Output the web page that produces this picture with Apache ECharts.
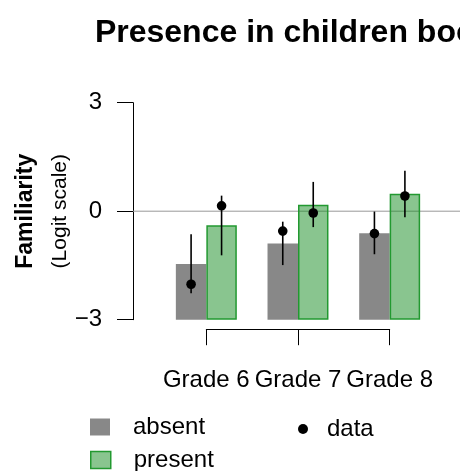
<!DOCTYPE html>
<html>
<head>
<meta charset="utf-8">
<script src="https://cdn.jsdelivr.net/npm/echarts@6/dist/echarts.min.js"></script>
<style>
html,body{margin:0;padding:0;background:#fff;}
#chart{width:460px;height:471px;}
</style>
</head>
<body>
<div id="chart"></div>
<script>
// ---- data ----
const categories = ['Grade 6', 'Grade 7', 'Grade 8'];
const absentBar = [-1.46, -0.89, -0.61];
const presentBar = [-0.39, 0.18, 0.48];
const absentMean = [-2.02, -0.55, -0.62];
const absentLow = [-2.27, -1.49, -1.19];
const absentHigh = [-0.64, -0.29, -0.01];
const presentMean = [0.15, -0.05, 0.42];
const presentLow = [-1.22, -0.44, -0.17];
const presentHigh = [0.43, 0.81, 1.12];
const yTicks = [-3, 0, 3];
const barBase = -3;
const refLine = 0;

const FONT = '"Liberation Sans", Arial, Helvetica, sans-serif';
const GAP = 0.335;
const TOP = 102.7, BOTTOM = 151.3;
const GRAY = '#888888';
const GREEN_FILL = 'rgba(19,139,31,0.5)';
const GREEN_LINE = '#229930';

const pointData = [];
categories.forEach((c, i) => {
  pointData.push([i, 0, absentMean[i], absentLow[i], absentHigh[i]]);
  pointData.push([i, 1, presentMean[i], presentLow[i], presentHigh[i]]);
});

const legendText = {fontSize: 24, color: '#000', fontFamily: FONT, padding: [0, 0, 0, 18]};

const chart = echarts.init(document.getElementById('chart'), null, {renderer: 'canvas'});
const option = {
  animation: false,
  backgroundColor: '#ffffff',
  textStyle: {fontFamily: FONT},
  title: {
    text: 'Presence in children books',
    left: 298, textAlign: 'center', top: 12,
    textStyle: {fontFamily: FONT, fontWeight: 'bold', fontSize: 32, color: '#000'}
  },
  grid: [
    {left: 160.5, right: 24.5, top: TOP, bottom: BOTTOM},
    {left: 133, right: -20, top: TOP, bottom: BOTTOM},
    {left: 206.3, right: 70.3, top: TOP, bottom: BOTTOM}
  ],
  xAxis: [
    {gridIndex: 0, type: 'category', data: categories, show: false},
    {gridIndex: 1, type: 'value', min: 0, max: 1, show: false},
    {gridIndex: 2, type: 'category', data: categories, boundaryGap: false, offset: 9.5,
     axisLine: {onZero: false, lineStyle: {color: '#000', width: 1}},
     axisTick: {length: 16, interval: 0, lineStyle: {color: '#000', width: 1}},
     axisLabel: {margin: 39, interval: 0, fontSize: 24, color: '#000', fontFamily: FONT}}
  ],
  yAxis: [
    {gridIndex: 0, type: 'value', min: yTicks[0], max: yTicks[2], interval: 3, offset: 27.5,
     startValue: barBase,
     splitLine: {show: false},
     axisLine: {show: true, lineStyle: {color: '#000', width: 1}},
     axisTick: {show: true, length: 16, lineStyle: {color: '#000', width: 1}},
     axisLabel: {margin: 31, fontSize: 24, color: '#000', fontFamily: FONT,
       formatter: v => (v < 0 ? '\u2212' + Math.abs(v) : String(v))},
     name: '{a|Familiarity}\n{b|(Logit scale)}',
     nameLocation: 'middle', nameRotate: 90, nameGap: 56, nameMoveOverlap: false,
     nameTextStyle: {
       rich: {
         a: {fontFamily: FONT, fontWeight: 'bold', fontSize: 23, color: '#000', lineHeight: 34},
         b: {fontFamily: FONT, fontSize: 21, color: '#000', lineHeight: 34}
       }
     }},
    {gridIndex: 1, type: 'value', min: yTicks[0], max: yTicks[2], show: false},
    {gridIndex: 2, type: 'value', min: yTicks[0], max: yTicks[2], show: false}
  ],
  legend: [
    {
      data: [{name: 'absent', icon: 'rect', itemStyle: {color: GRAY, borderWidth: 0}}],
      left: 85, top: 410, itemWidth: 20, itemHeight: 17,
      textStyle: legendText
    },
    {
      data: [{name: 'present', icon: 'rect', itemStyle: {color: GREEN_FILL, borderColor: GREEN_LINE, borderWidth: 1.5}}],
      left: 85, top: 443, itemWidth: 20, itemHeight: 17,
      textStyle: legendText
    },
    {
      data: [{name: 'data', icon: 'circle', itemStyle: {color: '#000'}}],
      left: 293, top: 412, itemWidth: 10, itemHeight: 10,
      textStyle: {fontSize: 24, color: '#000', fontFamily: FONT, padding: [0, 0, 0, 14]}
    }
  ],
  series: [
    {
      name: 'zero', type: 'line', xAxisIndex: 1, yAxisIndex: 1, z: 1, silent: true,
      symbol: 'none', lineStyle: {color: '#999999', width: 1},
      data: [[0, refLine], [1, refLine]]
    },
    {
      name: 'absent', type: 'bar', xAxisIndex: 0, yAxisIndex: 0, z: 2,
      barGap: '0%', barCategoryGap: (GAP * 100) + '%',
      itemStyle: {color: GRAY},
      data: absentBar
    },
    {
      name: 'present', type: 'bar', xAxisIndex: 0, yAxisIndex: 0, z: 2,
      barGap: '0%', barCategoryGap: (GAP * 100) + '%',
      itemStyle: {color: GREEN_FILL, borderColor: GREEN_LINE, borderWidth: 1.5},
      data: presentBar
    },
    {
      name: 'data', type: 'custom', xAxisIndex: 0, yAxisIndex: 0, z: 5,
      itemStyle: {color: '#000'},
      encode: {x: 0, y: [2, 3, 4]},
      data: pointData,
      renderItem: function (params, api) {
        const ci = api.value(0), g = api.value(1);
        const band = api.size([1, 0])[0];
        const bw = band * (1 - GAP) / 2;
        const cx = api.coord([ci, 0])[0] + (g === 0 ? -bw / 2 : bw / 2);
        const yM = api.coord([ci, api.value(2)])[1];
        const yLo = api.coord([ci, api.value(3)])[1];
        const yHi = api.coord([ci, api.value(4)])[1];
        return {
          type: 'group',
          children: [
            {type: 'line', shape: {x1: cx, y1: yHi, x2: cx, y2: yLo}, style: {stroke: '#000', lineWidth: 1.6}},
            {type: 'circle', shape: {cx: cx, cy: yM, r: 4.8}, style: {fill: '#000'}}
          ]
        };
      }
    }
  ]
};
chart.setOption(option);
</script>
</body>
</html>
